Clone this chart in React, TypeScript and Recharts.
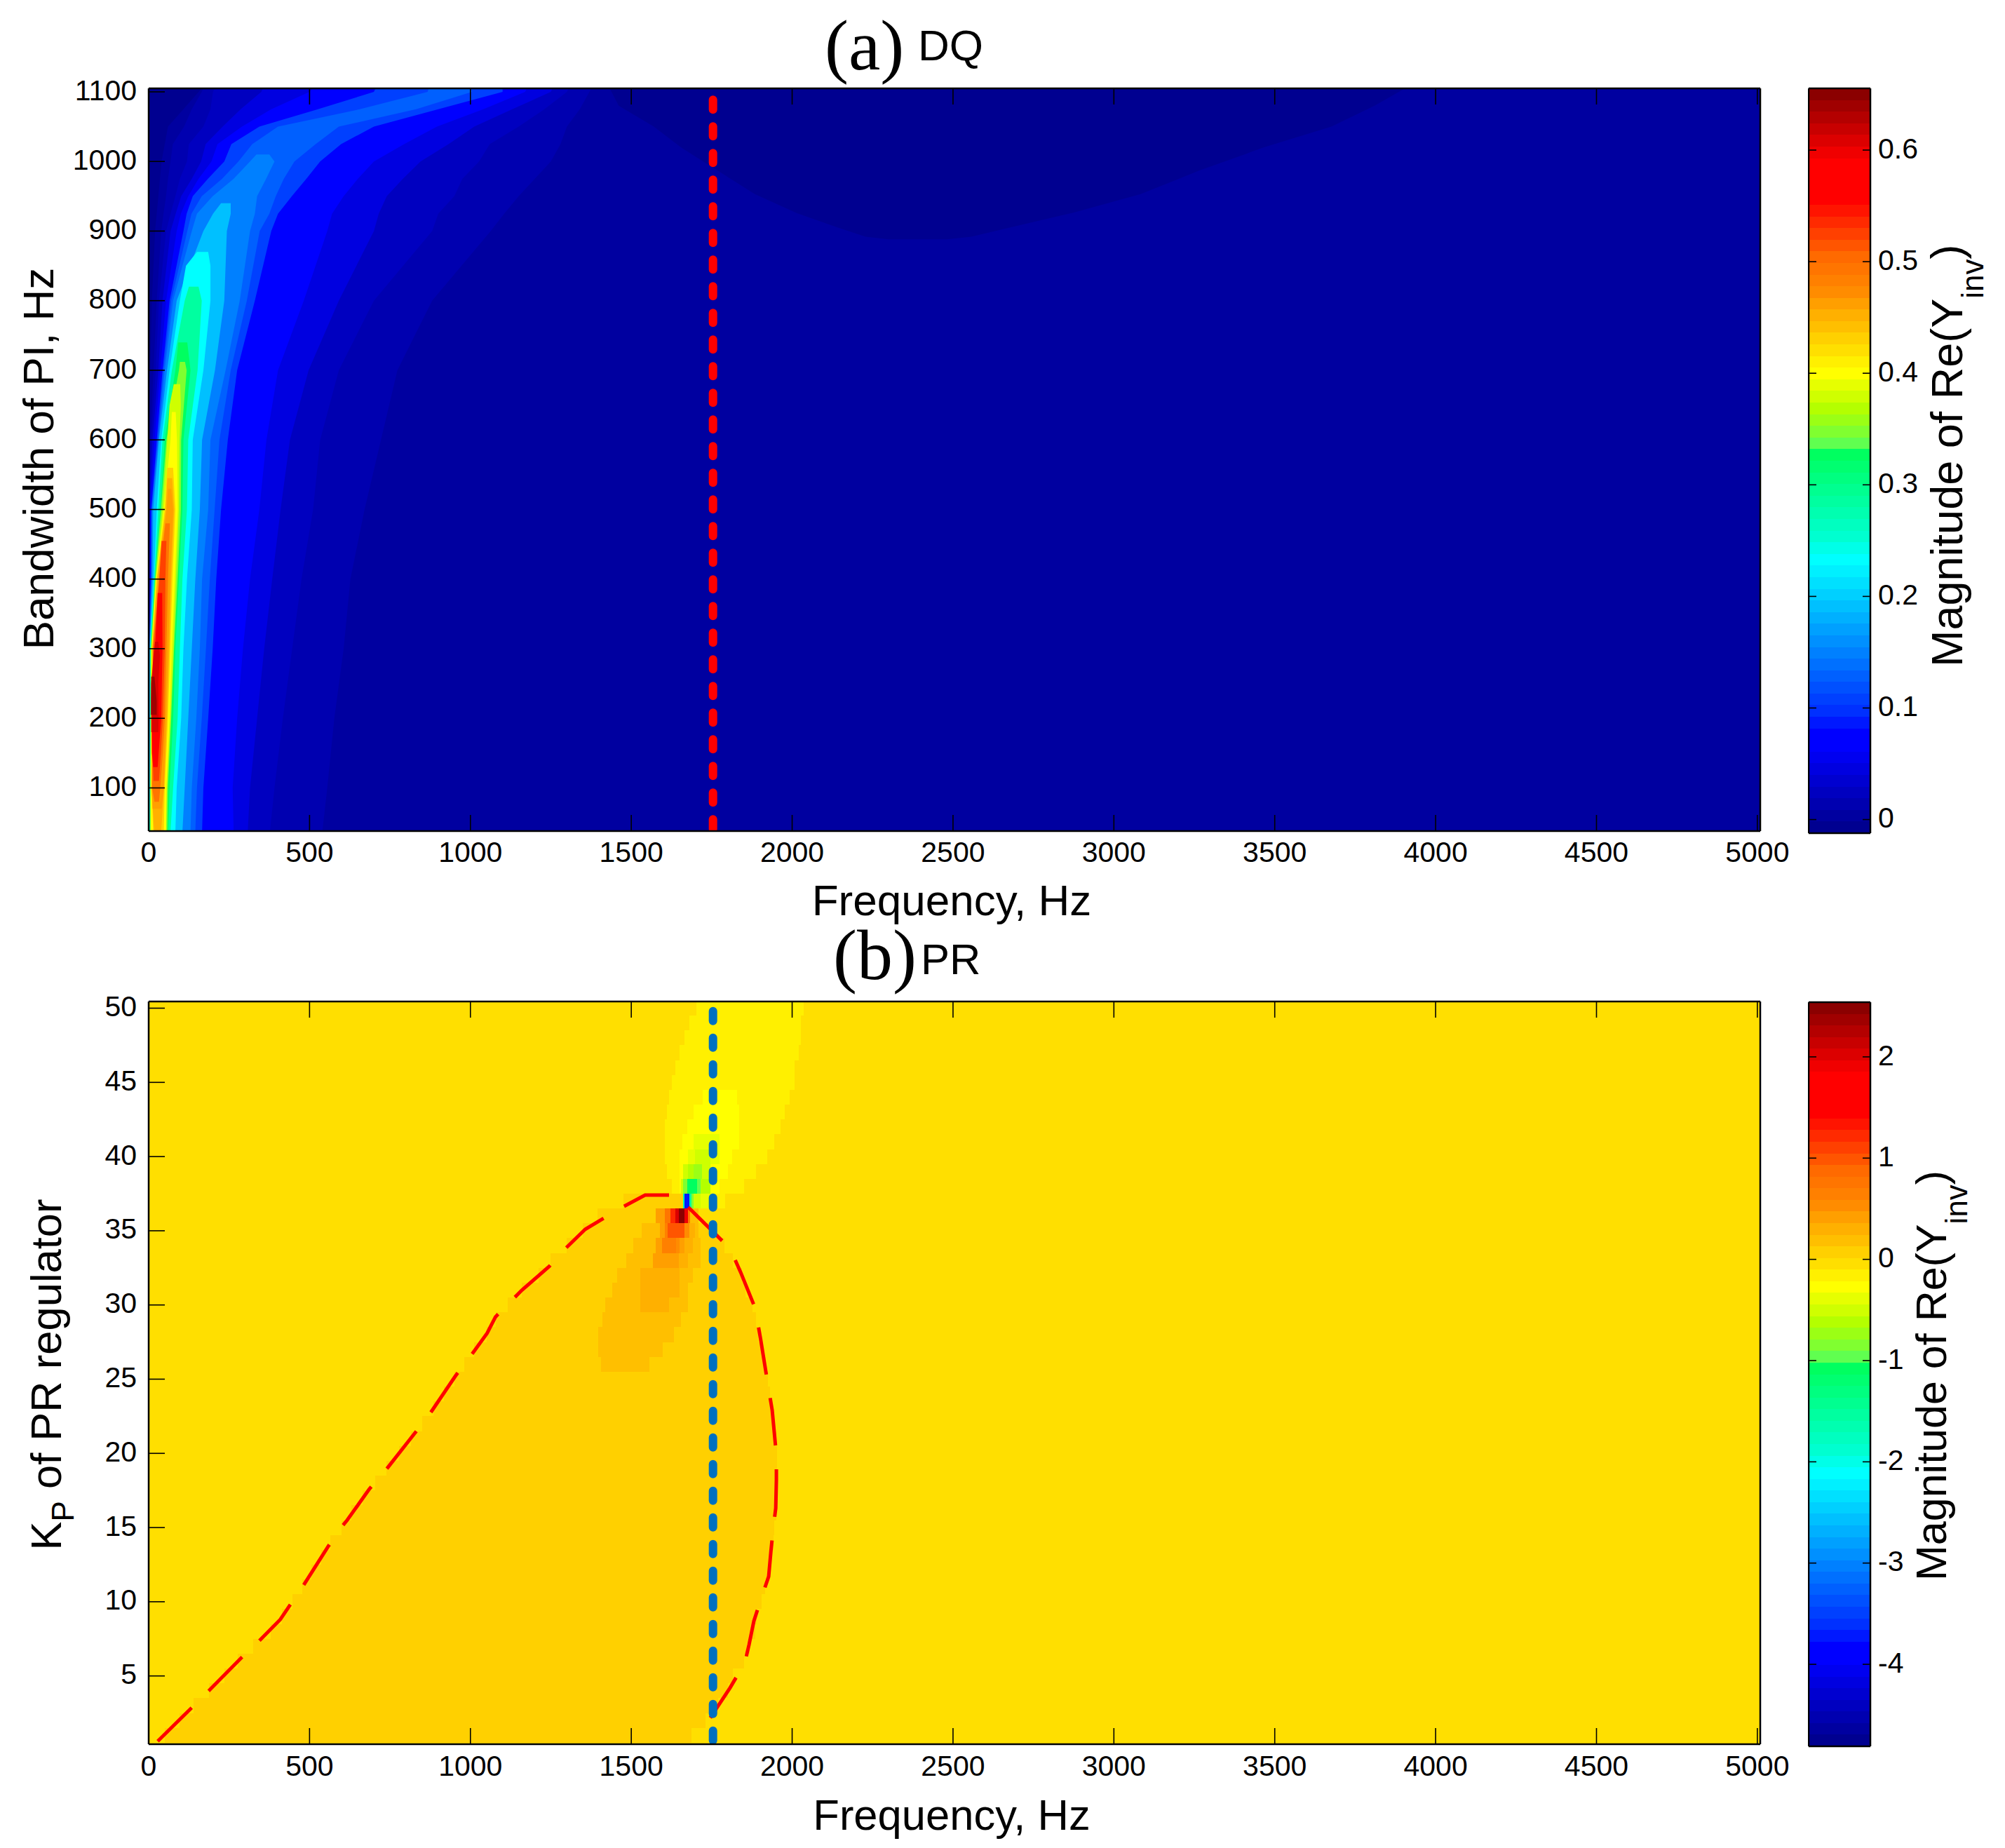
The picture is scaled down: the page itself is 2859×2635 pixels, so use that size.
import { Area, ComposedChart, Line, ReferenceArea, XAxis, YAxis } from 'recharts'

const SANS = '"Liberation Sans", Arial, sans-serif'
const SERIF = '"Liberation Serif", "Times New Roman", serif'

// colormap of both colorbars, top band first
const jetColors = [
  '#8b0000', '#a00000', '#b40000', '#c80000', '#dc0000', '#f00000', '#ff0000', '#ff0000',
  '#ff0000', '#ff0000', '#ff1400', '#ff2a00', '#ff4000', '#ff5500', '#ff6a00', '#ff7500',
  '#ff8000', '#ff8c00', '#ff9f00', '#ffb000', '#ffbf00', '#ffd000', '#ffdf00', '#fff000',
  '#ffff00', '#e6ff00', '#cfff00', '#b4ff00', '#9bff15', '#80ff30', '#60ff50', '#00ff60',
  '#00ff70', '#00ff80', '#00ff90', '#00ffa0', '#00ffb0', '#00ffc0', '#00ffd0', '#00ffe8',
  '#00ffff', '#00f0ff', '#00e0ff', '#00d0ff', '#00c0ff', '#00b0ff', '#00a0ff', '#0090ff',
  '#0080ff', '#0070ff', '#0060ff', '#0050ff', '#0040ff', '#0030ff', '#0018ff', '#0000ff',
  '#0000ff', '#0000f0', '#0000e0', '#0000d0', '#0000c0', '#0000b0', '#0000a0', '#000090',
]

const freqTicks = [0, 500, 1000, 1500, 2000, 2500, 3000, 3500, 4000, 4500, 5000]
const bandwidthTicks = [100, 200, 300, 400, 500, 600, 700, 800, 900, 1000, 1100]
const kpTicks = [5, 10, 15, 20, 25, 30, 35, 40, 45, 50]
const dqBarTicks = [0, 0.1, 0.2, 0.3, 0.4, 0.5, 0.6]
const prBarTicks = [-4, -3, -2, -1, 0, 1, 2]

const freqDomain = [0, 5009]
const dqDomain = [38, 1105]
const kpDomain = [0.4, 50.45]
const dqBarDomain = [-0.0122, 0.6553]
const prBarDomain = [-4.81, 2.54]

// DQ map: level sets of Re(Yinv), rows are [bandwidth, left freq, right freq]
const dqBase = [[38, 0, 5009], [1105, 0, 5009]]
const dqNavyRight = [[888, 2300, 2480], [892, 2228, 2557], [906, 2136, 2685], [926, 2014, 2870], [953, 1884, 3083], [987, 1768, 3266], [1020, 1655, 3465], [1050, 1570, 3676], [1080, 1461, 3810], [1105, 1433, 3905]]
const dqNavyLeft = [[700, 0, 5], [800, 0, 10], [900, 0, 20], [1000, 0, 40], [1050, 0, 60], [1105, 0, 165]]
const dq014 = [[38, 0, 540], [100, 0, 555], [200, 0, 577], [300, 0, 606], [400, 0, 627], [500, 0, 671], [600, 5, 722], [700, 15, 773], [800, 25, 881], [900, 39, 1063], [925, 46, 1105], [950, 54, 1150], [975, 60, 1200], [1000, 68, 1250], [1025, 75, 1280], [1050, 110, 1300], [1075, 134, 1340], [1100, 165, 1370], [1105, 170, 1375]]
const dq024 = [[38, 0, 377], [100, 0, 391], [200, 0, 417], [300, 0, 446], [400, 0, 475], [500, 0, 511], [600, 8, 533], [700, 22, 591], [800, 32, 700], [900, 54, 881], [925, 68, 900], [950, 83, 950], [975, 97, 975], [1000, 119, 1027], [1025, 125, 1060], [1050, 170, 1150], [1075, 192, 1230], [1100, 200, 1300], [1105, 205, 1305]]
const dq045 = [[38, 0, 308], [100, 0, 315], [200, 0, 337], [300, 0, 359], [400, 2, 384], [500, 3, 410], [600, 12, 439], [700, 30, 497], [800, 43, 591], [900, 68, 700], [925, 84, 715], [950, 101, 740], [975, 134, 790], [1000, 163, 845], [1025, 177, 932], [1050, 230, 1012], [1075, 286, 1130], [1100, 350, 1250], [1105, 355, 1255]]
const dq066 = [[38, 0, 264], [100, 0, 261], [200, 0, 275], [300, 0, 293], [400, 3, 315], [500, 5, 344], [600, 18, 366], [700, 36, 402], [800, 54, 482], [900, 87, 555], [925, 100, 570], [950, 123, 606], [975, 155, 650], [1000, 195, 700], [1025, 214, 794], [1050, 290, 896], [1075, 381, 1040], [1100, 500, 1170], [1105, 510, 1175]]
const dq108 = [[38, 0, 166], [100, 0, 170], [200, 0, 185], [300, 1, 199], [400, 7, 210], [500, 8, 225], [600, 25, 246], [700, 43, 275], [800, 65, 330], [900, 108, 381], [925, 118, 402], [950, 137, 445], [975, 184, 490], [1000, 235, 533], [1025, 257, 598], [1050, 344, 700], [1075, 526, 900], [1100, 700, 1100], [1105, 705, 1100]]
const dq128 = [[38, 0, 145], [100, 0, 150], [200, 1, 165], [300, 2, 178], [400, 8, 190], [500, 9, 205], [600, 28, 220], [700, 46, 255], [800, 70, 305], [900, 120, 345], [925, 133, 375], [950, 165, 395], [975, 228, 420], [1000, 279, 453], [1025, 322, 519], [1050, 402, 591], [1075, 656, 831], [1100, 867, 1005], [1105, 870, 1000]]
const dq149 = [[38, 0, 130], [100, 0, 134], [200, 2, 148], [300, 3, 159], [400, 9, 166], [500, 10, 185], [600, 30, 192], [700, 50, 239], [800, 76, 283], [900, 134, 315], [925, 150, 330], [950, 199, 337], [975, 264, 365], [1000, 315, 391], [1010, 335, 375]]
const dq191 = [[38, 0, 105], [100, 1, 112], [200, 3, 123], [300, 3, 134], [400, 12, 145], [500, 14, 159], [600, 32, 166], [700, 57, 206], [800, 87, 235], [900, 170, 243], [925, 200, 255], [940, 225, 255]]
const dq233 = [[38, 2, 83], [100, 3, 87], [200, 4, 101], [300, 4, 108], [400, 16, 119], [500, 25, 134], [600, 39, 137], [700, 65, 170], [800, 97, 192], [850, 116, 192], [870, 150, 185]]
const dq285 = [[38, 3, 68], [100, 4, 76], [200, 5, 90], [300, 5, 97], [400, 17, 105], [500, 30, 119], [600, 43, 123], [700, 72, 152], [800, 112, 165], [820, 125, 155]]
const dq327 = [[38, 4, 61], [100, 5, 65], [200, 6, 76], [300, 6, 83], [400, 19, 94], [500, 36, 105], [600, 50, 108], [700, 83, 130], [740, 92, 120]]
const dq347 = [[38, 5, 58], [100, 5, 60], [200, 6, 70], [300, 7, 79], [400, 20, 90], [500, 38, 100], [600, 55, 101], [700, 94, 118], [712, 97, 113]]
const dq379 = [[38, 6, 54], [100, 6, 57], [200, 7, 68], [300, 8, 77], [400, 22, 85], [500, 43, 94], [600, 58, 96], [650, 65, 100], [680, 78, 98]]
const dq400 = [[38, 7, 54], [100, 7, 55], [200, 8, 65], [300, 9, 72], [400, 23, 81], [500, 47, 90], [600, 68, 88], [640, 72, 84]]
const dq431 = [[38, 14, 47], [100, 9, 50], [200, 9, 60], [300, 11, 67], [400, 25, 74], [500, 50, 83], [560, 58, 76]]
const dq452 = [[38, 17, 39], [100, 9, 48], [200, 11, 57], [300, 11, 64], [400, 26, 70], [500, 53, 79], [545, 58, 73]]
const dq462 = [[70, 12, 40], [100, 10, 47], [200, 12, 54], [300, 12, 61], [400, 28, 67], [500, 56, 76], [530, 60, 70]]
const dq493 = [[80, 18, 32], [100, 11, 36], [150, 11, 44], [200, 13, 50], [300, 13, 55], [400, 32, 60], [480, 52, 66]]
const dq525 = [[110, 15, 32], [150, 12, 38], [200, 14, 44], [300, 15, 50], [400, 33, 52], [455, 40, 55]]
const dq577 = [[130, 14, 28], [150, 10, 31], [200, 9, 39], [300, 20, 43], [380, 28, 42]]
const dq608 = [[180, 8, 30], [200, 8, 31], [250, 8, 30], [290, 15, 35], [310, 20, 30]]
const dq639 = [[205, 7, 25], [225, 7, 25], [260, 8, 18]]

const dqLayers: [number, number[][]][] = [
  [0.0033, dqBase], [-0.0071, dqNavyRight], [-0.0071, dqNavyLeft], [0.0137, dq014], [0.0242, dq024],
  [0.045, dq045], [0.0657, dq066], [0.1075, dq108], [0.128, dq128], [0.149, dq149], [0.191, dq191],
  [0.233, dq233], [0.2848, dq285], [0.3265, dq327], [0.3474, dq347], [0.3786, dq379], [0.3995, dq400],
  [0.4308, dq431], [0.452, dq452], [0.462, dq462], [0.4933, dq493], [0.5246, dq525], [0.5767, dq577],
  [0.608, dq608], [0.639, dq639],
]

// PR map: one row per integer Kp, [Kp, left freq, right freq]
const prInner = [
  [1, 50, 1688], [2, 95, 1730], [3, 140, 1770], [4, 187, 1800], [5, 235, 1816], [6, 277, 1850], [7, 325, 1868], [8, 380, 1885],
  [9, 415, 1890], [10, 447, 1905], [11, 478, 1917], [12, 505, 1930], [13, 537, 1935], [14, 565, 1942], [15, 600, 1945], [16, 630, 1950],
  [17, 665, 1953], [18, 705, 1953], [19, 740, 1953], [20, 778, 1953], [21, 815, 1950], [22, 850, 1945], [23, 885, 1938], [24, 918, 1932],
  [25, 950, 1925], [26, 980, 1918], [27, 1012, 1905], [28, 1050, 1895], [29, 1078, 1887], [30, 1115, 1876], [31, 1160, 1854], [32, 1212, 1843],
  [33, 1250, 1816], [34, 1300, 1789], [35, 1350, 1752], [36, 1395, 1709], [37, 1476, 1660],
]
const prWarm = [
  [26, 1406, 1556], [27, 1398, 1597], [28, 1398, 1632], [29, 1411, 1654], [30, 1418, 1676], [31, 1440, 1676],
  [32, 1455, 1691], [33, 1484, 1716], [34, 1506, 1716], [35, 1533, 1709], [36, 1575, 1709],
]
const prWarmer = [[30, 1527, 1618], [31, 1527, 1651], [32, 1527, 1651], [33, 1567, 1676], [34, 1575, 1691], [35, 1589, 1699], [36, 1575, 1683]]
const prLobeOuter = [
  [50, 1702, 2036], [49, 1680, 2028], [48, 1665, 2028], [47, 1651, 2021], [46, 1636, 2007], [45, 1625, 2007], [44, 1618, 1992],
  [43, 1611, 1977], [42, 1604, 1963], [41, 1604, 1945], [40, 1604, 1923], [39, 1611, 1887], [38, 1625, 1850], [37, 1662, 1792],
]
const prLobeInner = [
  [44, 1723, 1829], [43, 1694, 1836], [42, 1673, 1836], [41, 1658, 1836], [40, 1651, 1814], [39, 1651, 1800], [38, 1651, 1774], [37, 1709, 1745],
]
// single cells around the resonance: [Kp, left freq, right freq, value]
const prCells = [
  [33, 1567, 1647, 0.416],
  [34, 1575, 1596, 0.416], [34, 1596, 1640, 0.646], [34, 1640, 1651, 0.53], [34, 1651, 1665, 0.416],
  [35, 1589, 1604, 0.416], [35, 1604, 1614, 0.646], [35, 1614, 1665, 0.99], [35, 1665, 1680, 0.53],
  [36, 1575, 1604, 0.416], [36, 1604, 1622, 0.76], [36, 1622, 1636, 1.22], [36, 1636, 1647, 2.02], [36, 1647, 1665, 2.48], [36, 1665, 1676, 1.91], [36, 1676, 1683, 0.76],
  [41, 1694, 1774, -0.39],
  [40, 1676, 1698, -0.39], [40, 1698, 1745, -0.5], [40, 1745, 1774, -0.39],
  [39, 1662, 1676, -0.5], [39, 1676, 1694, -0.62], [39, 1694, 1720, -0.73], [39, 1720, 1745, -0.5],
  [38, 1654, 1662, -0.5], [38, 1662, 1673, -0.85], [38, 1673, 1705, -1.08], [38, 1705, 1716, -0.96], [38, 1716, 1745, -0.62],
  [37, 1662, 1665, -1.65], [37, 1665, 1681, -3.7], [37, 1681, 1688, -1.54], [37, 1688, 1694, -0.85], [37, 1694, 1716, -0.5], [37, 1716, 1745, -0.39],
]

// stability boundary, [freq, Kp]
const prContour = [
  [28, 0.6], [131, 2.8], [187, 4], [287, 6.2], [345, 7.4], [409, 8.8], [437, 9.7], [481, 11.1], [557, 13.7], [602, 15.1], [617, 15.5],
  [686, 17.6], [738, 18.9], [825, 21.3], [875, 22.7], [953, 25.2], [1002, 26.6], [1052, 28.1], [1078, 29.2], [1160, 31], [1245, 32.6],
  [1295, 33.8], [1357, 35.1], [1473, 36.6], [1543, 37.4], [1636, 37.4], [1672, 36.7], [1709, 35.9], [1807, 33.8], [1840, 32.2],
  [1883, 29.9], [1889, 29.3], [1902, 27.7], [1925, 24.6], [1938, 22.9], [1951, 19.9], [1951, 18.2], [1949, 16.3], [1942, 15.1],
  [1934, 13.4], [1927, 11.7], [1905, 10.3], [1881, 8.7], [1866, 7.1], [1853, 5.9], [1807, 4.2], [1731, 1.7],
]
const dqMarker = [[1754, 1088.6], [1754, 38]]
const prMarker = [[1754, 49.8], [1754, 0.4]]

function levelColor(v: number, [lo, hi]: number[]) {
  const i = Math.floor(((hi - v) / (hi - lo)) * jetColors.length)
  return jetColors[Math.max(0, Math.min(jetColors.length - 1, i))]
}

const tickStyle = { fontSize: 41, fill: '#000', fontFamily: SANS }
const sideTickStyle = { ...tickStyle, dy: -3 }
const axisLine = { stroke: '#000', strokeWidth: 2.5 }
const tickLine = { stroke: '#000', strokeWidth: 1.6 }
const noText = () => ''

function frameAxes(yTicks: number[], yDomain: number[], topHeight: number, bottomHeight: number, labelGap: number) {
  return [
    <XAxis key='xb' type='number' dataKey='x' domain={freqDomain} ticks={freqTicks} interval={0} allowDataOverflow height={bottomHeight} tickSize={-23} tickMargin={labelGap} tick={tickStyle} tickLine={tickLine} axisLine={axisLine} />,
    <XAxis key='xt' xAxisId='top' orientation='top' type='number' domain={freqDomain} ticks={freqTicks} interval={0} allowDataOverflow height={topHeight} tickSize={-23} tickFormatter={noText} tickLine={tickLine} axisLine={axisLine} />,
    <YAxis key='yl' reversed type='number' dataKey='y' domain={yDomain} ticks={yTicks} interval={0} allowDataOverflow width={212} tickSize={-23} tickMargin={40} tick={sideTickStyle} tickLine={tickLine} axisLine={axisLine} />,
    <YAxis key='yr' reversed yAxisId='right' orientation='right' type='number' domain={yDomain} ticks={yTicks} interval={0} allowDataOverflow width={90} tickSize={-23} tickFormatter={noText} tickLine={tickLine} axisLine={axisLine} />,
  ]
}

function markerLine(points: number[][], color: string) {
  return (
    <Line
      data={points.map(([x, y]) => ({ x, y }))}
      dataKey='x'
      stroke={color}
      strokeWidth={12}
      strokeDasharray='14 24'
      strokeLinecap='round'
      dot={false}
      activeDot={false}
      isAnimationActive={false}
    />
  )
}

function rowAreas(rows: number[][], value: number | null, prefix: string) {
  return rows.map((r, i) => (
    <ReferenceArea
      key={prefix + i}
      x1={r[1]}
      x2={r[2]}
      y1={Math.max(r[0] - 0.5, kpDomain[0])}
      y2={Math.min(r[0] + 0.5, kpDomain[1])}
      fill={levelColor(value ?? r[3], prBarDomain)}
      fillOpacity={1}
      stroke='none'
      shapeRendering='crispEdges'
      ifOverflow='hidden'
    />
  ))
}

function DqPanel() {
  return (
    <ComposedChart layout='vertical' width={2600} height={1300} margin={{ top: 0, right: 0, bottom: 0, left: 0 }}>
      {frameAxes(bandwidthTicks, dqDomain, 126, 115, 38)}
      {dqLayers.map(([value, rows], i) => (
        <Area
          key={i}
          data={rows.map(([y, l, r]) => ({ y, edge: [l, r] }))}
          dataKey='edge'
          type='linear'
          stroke='none'
          fill={levelColor(value, dqBarDomain)}
          fillOpacity={1}
          dot={false}
          activeDot={false}
          isAnimationActive={false}
        />
      ))}
      {markerLine(dqMarker, '#ff0000')}
    </ComposedChart>
  )
}

function PrPanel() {
  return (
    <ComposedChart layout='vertical' width={2600} height={1335} margin={{ top: 0, right: 0, bottom: 0, left: 0 }}>
      {frameAxes(kpTicks, kpDomain, 128, 148, 39)}
      <ReferenceArea x1={freqDomain[0]} x2={freqDomain[1]} y1={kpDomain[0]} y2={kpDomain[1]} fill={levelColor(-0.044, prBarDomain)} fillOpacity={1} stroke='none' />
      {rowAreas(prInner, 0.07, 'a')}
      {rowAreas(prWarm, 0.187, 'b')}
      {rowAreas(prWarmer, 0.3, 'c')}
      {rowAreas(prLobeOuter, -0.16, 'd')}
      {rowAreas(prLobeInner, -0.27, 'e')}
      {rowAreas(prCells, null, 'f')}
      <Line
        data={prContour.map(([x, y]) => ({ x, y }))}
        dataKey='x'
        stroke='#ff0000'
        strokeWidth={5}
        strokeDasharray='68 34'
        dot={false}
        activeDot={false}
        isAnimationActive={false}
      />
      {markerLine(prMarker, '#0070c0')}
    </ComposedChart>
  )
}

function ColorBar({ domain, ticks, top, height }: { domain: number[]; ticks: number[]; top: number; height: number }) {
  const step = (domain[1] - domain[0]) / jetColors.length
  return (
    <div style={{ position: 'absolute', left: 2578, top }}>
      <ComposedChart layout='vertical' width={200} height={height + 4} margin={{ top: 0, right: 0, bottom: 0, left: 0 }}>
        <XAxis type='number' domain={[0, 1]} allowDataOverflow height={2} ticks={[]} tick={false} tickLine={false} axisLine={axisLine} />
        <XAxis xAxisId='top' orientation='top' type='number' domain={[0, 1]} allowDataOverflow height={2} ticks={[]} tick={false} tickLine={false} axisLine={axisLine} />
        <YAxis yAxisId='left' reversed type='number' dataKey='y' domain={domain} ticks={ticks} interval={0} allowDataOverflow width={1} tickSize={-11} tickFormatter={noText} tickLine={tickLine} axisLine={axisLine} />
        <YAxis yAxisId='right' reversed orientation='right' type='number' dataKey='y' domain={domain} ticks={ticks} interval={0} allowDataOverflow width={111} tickSize={-11} tickMargin={22} tick={sideTickStyle} tickFormatter={(v: number) => String(v)} tickLine={tickLine} axisLine={axisLine} />
        {jetColors.map((c, i) => (
          <Area
            key={i}
            yAxisId='right'
            data={[
              { y: domain[1] - i * step, edge: [0, 1] },
              { y: domain[1] - (i + 1) * step, edge: [0, 1] },
            ]}
            dataKey='edge'
            type='linear'
            stroke='none'
            fill={c}
            fillOpacity={1}
            shapeRendering='crispEdges'
            dot={false}
            activeDot={false}
            isAnimationActive={false}
          />
        ))}
      </ComposedChart>
    </div>
  )
}

function Titles() {
  const a = { fontFamily: SANS, fontSize: 62, fill: '#000' }
  const b = { fontFamily: SANS, fontSize: 61.5, fill: '#000' }
  return (
    <svg width={2859} height={2635} style={{ position: 'absolute', left: 0, top: 0, pointerEvents: 'none' }}>
      <text x={1176} y={99} style={{ fontFamily: SERIF, fontSize: 102 }}>(a)</text>
      <text x={1309} y={86} {...a}>DQ</text>
      <text x={1188} y={1396} style={{ fontFamily: SERIF, fontSize: 102 }}>(b)</text>
      <text x={1313} y={1389} {...b}>PR</text>
      <text x={1357} y={1305} textAnchor='middle' {...a}>Frequency, Hz</text>
      <text x={1357} y={2609} textAnchor='middle' {...b}>Frequency, Hz</text>
      <text transform='translate(76,654) rotate(-90)' textAnchor='middle' {...a}>Bandwidth of PI, Hz</text>
      <text transform='translate(87,1960) rotate(-90)' textAnchor='middle' {...b}>
        K<tspan dy={18} fontSize={44}>P</tspan><tspan dy={-18}> of PR regulator</tspan>
      </text>
      <text transform='translate(2798,951) rotate(-90)' {...a} fontSize={63}>
        Magnitude of Re(Y<tspan dy={30} fontSize={44}>inv</tspan><tspan dy={-30}>)</tspan>
      </text>
      <text transform='translate(2775,2254) rotate(-90)' {...b} fontSize={61}>
        Magnitude of Re(Y<tspan dy={30} fontSize={44}>inv</tspan><tspan dy={-30}>)</tspan>
      </text>
    </svg>
  )
}

export default function App() {
  return (
    <div style={{ position: 'absolute', left: 0, top: 0, width: 2859, height: 2635, background: '#fff' }}>
      <div style={{ position: 'absolute', left: 0, top: 0 }}>
        <DqPanel />
      </div>
      <div style={{ position: 'absolute', left: 0, top: 1300 }}>
        <PrPanel />
      </div>
      <ColorBar domain={dqBarDomain} ticks={dqBarTicks} top={124} height={1062} />
      <ColorBar domain={prBarDomain} ticks={prBarTicks} top={1427} height={1061} />
      <Titles />
    </div>
  )
}
